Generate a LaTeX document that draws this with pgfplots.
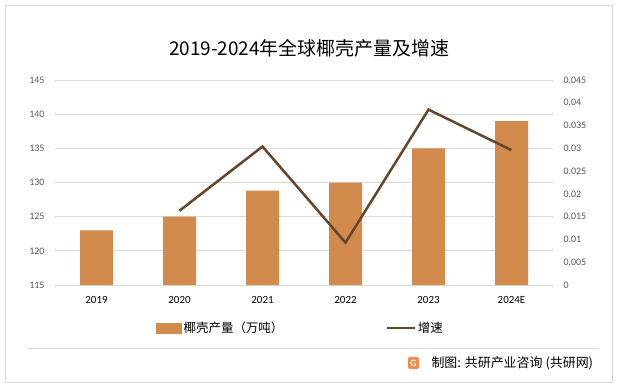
\documentclass[border=0pt]{standalone}
\usepackage{pgfplots}
\pgfplotsset{compat=1.18}
\usepackage{fontspec}
\setmainfont{Carlito}
\newfontfamily\cjk{Noto Sans CJK SC}
\definecolor{barc}{RGB}{211,139,77}
\definecolor{linec}{RGB}{101,70,45}
\definecolor{gridc}{RGB}{217,217,217}
\definecolor{tickc}{RGB}{89,89,89}
\definecolor{logoc}{RGB}{240,140,80}
\begin{document}
\begin{tikzpicture}[x=1bp,y=1bp]
\useasboundingbox (0,0) rectangle (617,388);
\fill[white] (0,0) rectangle (617,388);
\draw[gridc, line width=0.8bp] (5,6) rectangle (612,383);
\draw[gridc, line width=0.8bp] (27,40) -- (599,40);
\node[font=\cjk\fontsize{19}{22}\selectfont, text=black] at (309,340) {2019-2024年全球椰壳产量及增速};
\begin{axis}[
  at={(55bp,103bp)}, anchor=south west, scale only axis,
  width=498bp, height=205bp,
  xmin=-0.5, xmax=5.5, ymin=115, ymax=145,
  ytick={115,120,...,145},
  xtick={0,...,5}, xticklabels={2019,2020,2021,2022,2023,2024E},
  axis y line*=left, axis x line*=bottom,
  ymajorgrids, grid style={gridc, line width=0.8bp},
  y axis line style={draw=none},
  x axis line style={gridc, line width=0.8bp},
  major tick length=0pt,
  /pgf/number format/assume math mode=true,
  yticklabel style={font=\fontsize{10}{12}\selectfont, text=tickc, xshift=-7bp},
  xticklabel style={font=\fontsize{11}{13}\selectfont, text=black, yshift=-8bp},
  legend style={at={(0.493,-0.21)}, anchor=center, draw=none, fill=none,
    legend columns=2, font=\cjk\fontsize{12.5}{14}\selectfont,
    /tikz/every even column/.append style={column sep=100bp}},
  legend cell align=left,
]
\addplot[ybar, bar width=33bp, fill=barc, draw=none, forget plot] coordinates {
  (0,123) (1,125) (2,128.8) (3,130) (4,135) (5,139)};
\addlegendimage{legend image code/.code={\fill[barc] (0bp,-5bp) rectangle (25bp,5bp);}}
\addlegendentry{椰壳产量（万吨）}
\addlegendimage{legend image code/.code={\draw[linec, line width=2.5bp] (0bp,0bp) -- (28bp,0bp);}}
\addlegendentry{增速}
\end{axis}
\begin{axis}[
  at={(55bp,103bp)}, anchor=south west, scale only axis,
  width=498bp, height=205bp,
  xmin=-0.5, xmax=5.5, ymin=0, ymax=0.045,
  ytick={0,0.005,...,0.045},
  scaled y ticks=false,
  axis y line*=right, axis x line=none,
  y axis line style={draw=none},
  major tick length=0pt,
  /pgf/number format/assume math mode=true,
  /pgf/number format/fixed, /pgf/number format/precision=3,
  yticklabel style={font=\fontsize{10}{12}\selectfont, text=tickc, xshift=7bp},
]
\addplot[linec, line width=2.5bp, mark=none] coordinates {
  (1,0.0163) (2,0.0304) (3,0.0093) (4,0.0385) (5,0.0296)};
\end{axis}
\fill[logoc, rounded corners=2bp] (408,19) rectangle (419,31);
\node[font=\sffamily\bfseries\fontsize{9}{10}\selectfont, text=white] at (413.5,25) {G};
\node[anchor=west, font=\cjk\fontsize{13}{15}\selectfont, text=black] at (428,25) {制图: 共研产业咨询 (共研网)};
\end{tikzpicture}
\end{document}
